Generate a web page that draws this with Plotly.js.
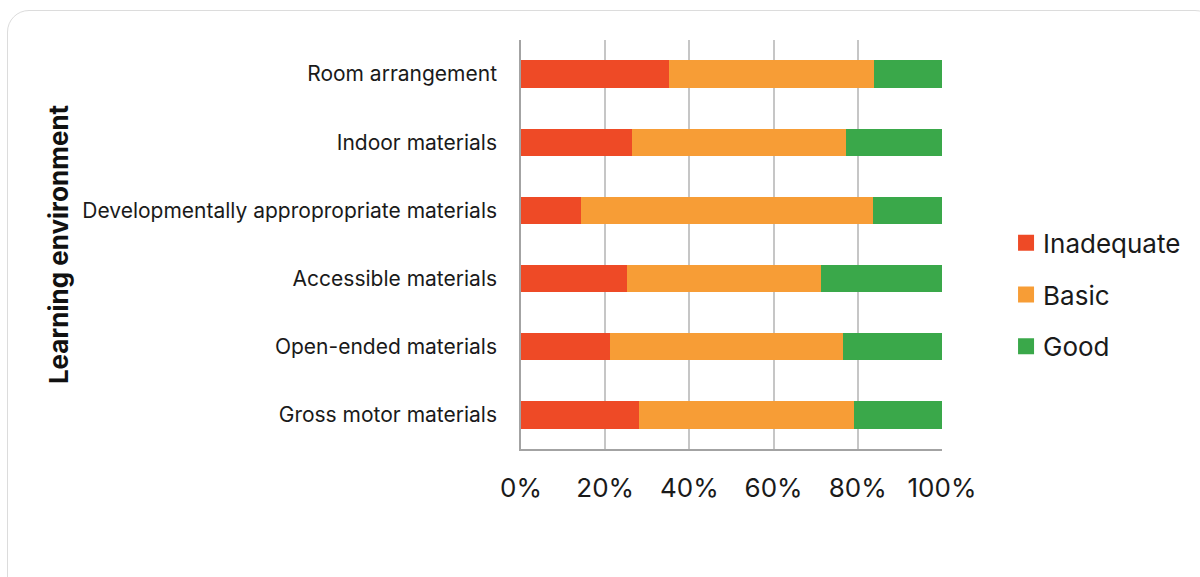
<!DOCTYPE html>
<html>
<head>
<meta charset="utf-8">
<script src="https://cdn.plot.ly/plotly-3.0.1.min.js"></script>
<style>
  html, body { margin: 0; padding: 0; background: #ffffff; }
  #card { position: absolute; left: 7px; top: 10px; width: 1210px; height: 590px;
          border: 1.5px solid #dcdcdc; border-radius: 22px; box-sizing: border-box; }
  #chart { position: absolute; left: 0; top: 0; width: 1200px; height: 577px; }
</style>
</head>
<body>
<div id="card"></div>
<div id="chart"></div>
<script>
const categories = [
  "Room arrangement",
  "Indoor materials",
  "Developmentally appropropriate materials",
  "Accessible materials",
  "Open-ended materials",
  "Gross motor materials"
];
const inadequate = [35.1, 26.3, 14.2, 25.2, 21.1, 28.0];
const basic      = [48.7, 51.0, 69.3, 46.0, 55.3, 51.0];
const good       = [16.2, 22.7, 16.5, 28.8, 23.6, 21.0];
const seriesNames = ["Inadequate", "Basic", "Good"];
const seriesColors = ["#EE4A26", "#F79D36", "#3AA84A"];
const xTickVals = [0, 20, 40, 60, 80, 100];
const xTickText = ["0%", "20%", "40%", "60%", "80%", "100%"];

const values = [inadequate, basic, good];
const traces = values.map((v, i) => ({
  type: "bar",
  orientation: "h",
  name: seriesNames[i],
  x: v,
  y: categories,
  legendgroup: "g" + i,
  marker: { color: seriesColors[i], line: { width: 0 } },
  hoverinfo: "x+y+name"
}));

const layout = {
  width: 1200,
  height: 577,
  paper_bgcolor: "rgba(0,0,0,0)",
  plot_bgcolor: "rgba(0,0,0,0)",
  margin: { l: 521, r: 258, t: 40, b: 127.5, pad: 0 },
  barmode: "stack",
  bargap: 0.6,
  font: { family: "Inter, 'Noto Sans', sans-serif", color: "#1a1a1a" },
  xaxis: {
    range: [0, 100],
    tickvals: xTickVals,
    ticktext: xTickText,
    ticks: "",
    showgrid: true,
    gridcolor: "#c6c6c6",
    gridwidth: 1.5,
    zeroline: false,
    showline: true,
    linecolor: "#a3a3a3",
    linewidth: 1.5,
    tickfont: { size: 26, color: "#1a1a1a" },
    ticklabelstandoff: 15,
    fixedrange: true
  },
  yaxis: {
    type: "category",
    autorange: "reversed",
    ticks: "",
    showgrid: false,
    zeroline: false,
    showline: true,
    linecolor: "#a3a3a3",
    linewidth: 1.5,
    tickfont: { size: 21, color: "#1a1a1a" },
    ticklabelstandoff: 18,
    automargin: false,
    title: {
      text: "<b>Learning environment</b>",
      font: { size: 26, color: "#111111" },
      standoff: 6
    },
    fixedrange: true
  },
  showlegend: true,
  legend: {
    x: 1.145,
    y: 0.377,
    xanchor: "left",
    yanchor: "middle",
    traceorder: "grouped",
    tracegroupgap: 15,
    font: { size: 26, color: "#1a1a1a" },
    bgcolor: "rgba(0,0,0,0)",
    itemwidth: 30
  }
};

function fixSwatches(gd) {
  // larger square legend swatches, placed just left of the legend text
  gd.querySelectorAll(".legend .legendpoints path").forEach(p => {
    p.removeAttribute("transform");
    p.setAttribute("d", "M31,8H15V-8H31Z");
  });
}

Plotly.newPlot("chart", traces, layout, { displayModeBar: false }).then(gd => {
  fixSwatches(gd);
  gd.on("plotly_afterplot", () => fixSwatches(gd));
});
</script>
</body>
</html>
